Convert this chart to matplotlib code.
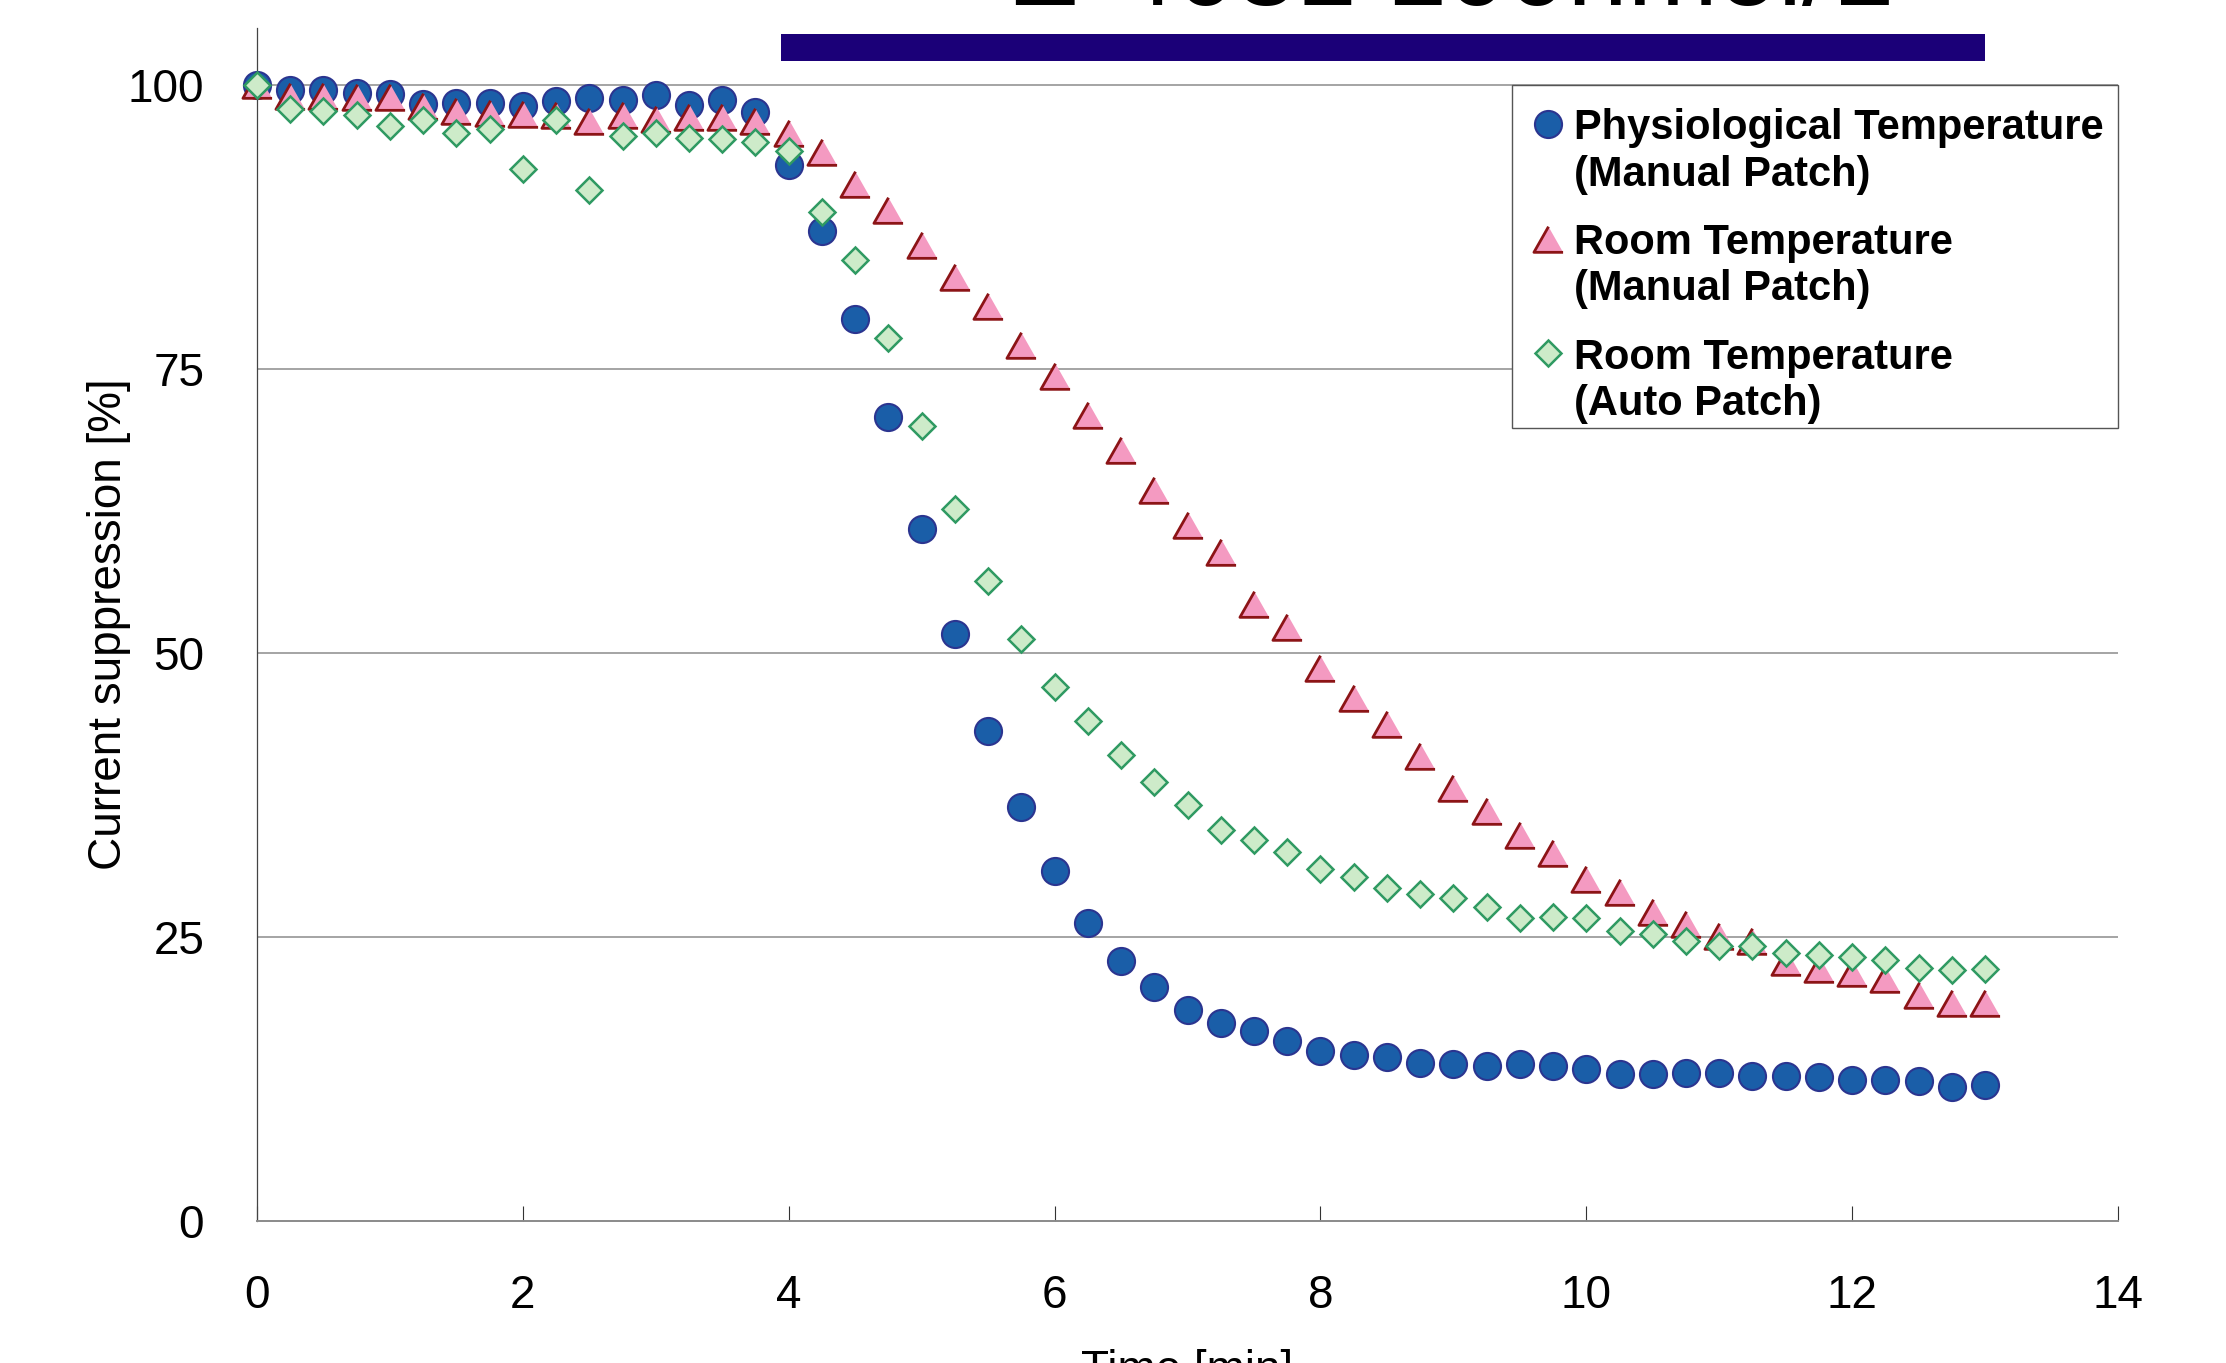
import matplotlib
matplotlib.use('Agg')
import matplotlib.pyplot as plt
from matplotlib.lines import Line2D
from matplotlib.patches import Rectangle
from matplotlib.legend_handler import HandlerLine2D

plt.rcParams['font.family'] = 'Liberation Sans'

# DATA ------------------------------------------------------------------------
time_min = [0, 0.25, 0.5, 0.75, 1, 1.25, 1.5, 1.75, 2, 2.25, 2.5, 2.75, 3,
            3.25, 3.5, 3.75, 4, 4.25, 4.5, 4.75, 5, 5.25, 5.5, 5.75, 6, 6.25,
            6.5, 6.75, 7, 7.25, 7.5, 7.75, 8, 8.25, 8.5, 8.75, 9, 9.25, 9.5,
            9.75, 10, 10.25, 10.5, 10.75, 11, 11.25, 11.5, 11.75, 12, 12.25,
            12.5, 12.75, 13]

physio_manual = [100.0, 99.5, 99.5, 99.3, 99.2, 98.3, 98.4, 98.4, 98.1, 98.6,
                 98.8, 98.7, 99.1, 98.2, 98.7, 97.6, 92.9, 87.1, 79.4, 70.8,
                 60.9, 51.7, 43.1, 36.4, 30.8, 26.2, 22.9, 20.6, 18.6, 17.4,
                 16.7, 15.8, 15.0, 14.6, 14.4, 13.9, 13.8, 13.6, 13.8, 13.6,
                 13.4, 12.9, 12.9, 13.0, 13.0, 12.8, 12.8, 12.7, 12.4, 12.4,
                 12.3, 11.8, 12.0]

room_manual = [100.0, 99.0, 99.0, 98.9, 98.9, 98.1, 97.7, 97.5, 97.4, 97.3,
               96.8, 97.3, 97.0, 97.2, 97.2, 96.8, 95.8, 94.1, 91.3, 89.0,
               85.9, 83.1, 80.5, 77.1, 74.4, 70.9, 67.9, 64.3, 61.3, 58.9,
               54.3, 52.3, 48.7, 46.0, 43.7, 40.9, 38.1, 36.1, 34.0, 32.4,
               30.1, 29.0, 27.2, 26.1, 25.1, 24.6, 22.8, 22.2, 21.8, 21.3,
               19.9, 19.2, 19.2]

room_auto = [100.0, 97.9, 97.7, 97.3, 96.4, 96.9, 95.8, 96.1, 92.6, 96.9,
             90.7, 95.5, 95.8, 95.3, 95.2, 95.0, 94.2, 88.8, 84.6, 77.7,
             70.0, 62.7, 56.3, 51.2, 47.0, 44.0, 41.0, 38.6, 36.6, 34.4,
             33.5, 32.5, 31.0, 30.3, 29.3, 28.8, 28.4, 27.6, 26.7, 26.8,
             26.7, 25.5, 25.3, 24.6, 24.2, 24.2, 23.6, 23.4, 23.2, 23.0,
             22.3, 22.1, 22.2]

labels = ['Physiological Temperature\n(Manual Patch)',
          'Room Temperature\n(Manual Patch)',
          'Room Temperature\n(Auto Patch)']

drug_start, drug_stop = 3.94, 13.0   # application bar [min]
title = 'E-4031 100nmol/L'
xticks = [0, 2, 4, 6, 8, 10, 12, 14]
yticks = [0, 25, 50, 75, 100]
# END DATA --------------------------------------------------------------------

W, H = 2226, 1363
fig = plt.figure(figsize=(W / 100, H / 100), dpi=100)
ax = fig.add_axes([257 / W, 142 / H, 1861 / W, 1193 / H])

tri = [(0, 0.88), (-1, -0.88), (1, -0.88)]
l1, = ax.plot(time_min, physio_manual, ls='none', marker='o', ms=19.5,
              mfc='#1a5ea8', mec='#2b3590', mew=1.5, clip_on=False, zorder=3)
l2, = ax.plot(time_min, room_manual, ls='none', marker=tri, ms=21,
              mfc='#f49ac1', mec='#8c1416', mew=2.0, clip_on=False, zorder=4)
l3, = ax.plot(time_min, room_auto, ls='none', marker='D', ms=13.5,
              mfc='#cdebc9', mec='#2f9a62', mew=1.8, clip_on=False, zorder=5)

# drug application bar
ax.add_patch(Rectangle((drug_start, 102.1), drug_stop - drug_start, 2.4,
                       facecolor='#1b0078', edgecolor='none', clip_on=False))

ax.set_xlim(0, 14)
ax.set_ylim(0, 105)
ax.set_xticks(xticks)
ax.set_yticks(yticks)
ax.tick_params(axis='x', direction='in', length=10.8, width=0.8,
               color='#333333', labelsize=33, pad=38)
ax.tick_params(axis='y', length=0, labelsize=33, pad=38)
for v in yticks[1:]:
    ax.axhline(v, color='#8c8c8c', lw=1.1, zorder=1)

for s in ['top', 'right']:
    ax.spines[s].set_visible(False)
ax.spines['left'].set_color('#444444')
ax.spines['left'].set_linewidth(0.9)
ax.spines['bottom'].set_color('#8a8a8a')
ax.spines['bottom'].set_linewidth(1.4)

ax.set_ylabel('Current suppression [%]', fontsize=33)
ax.yaxis.set_label_coords(-(257 - 131) / 1861, 0.5)
ax.set_xlabel('Time [min]', fontsize=33)
ax.xaxis.set_label_coords(0.5, -(1349 - 1221) / 1193)

fig.text(1007 / W, 1 - 5 / H, title, fontsize=78, ha='left', va='baseline')


# legend: marker beside the first line of each two-line label
def raise_marker(handle, orig):
    handle.update_from(orig)
    handle.set_ydata(handle.get_ydata() + 20.5)


frame = Rectangle((1512 / W, 1 - 428 / H), 606 / W, 343 / H,
                  transform=fig.transFigure, facecolor='white',
                  edgecolor='#555555', lw=1.0, clip_on=False, zorder=6)
ax.add_patch(frame)

leg = ax.legend([l1, l2, l3], labels, loc='upper left',
                bbox_to_anchor=(1531 / W, 1 - 108 / H),
                bbox_transform=fig.transFigure, borderaxespad=0,
                prop={'weight': 'bold', 'size': 30}, borderpad=0,
                handlelength=0.8, handletextpad=0.22, labelspacing=0.68,
                frameon=False,
                handler_map={Line2D: HandlerLine2D(update_func=raise_marker)})
leg.set_zorder(7)
for t in leg.get_texts():
    t.set_linespacing(1.21)

fig.savefig('out.png', dpi=100)
plt.close(fig)
